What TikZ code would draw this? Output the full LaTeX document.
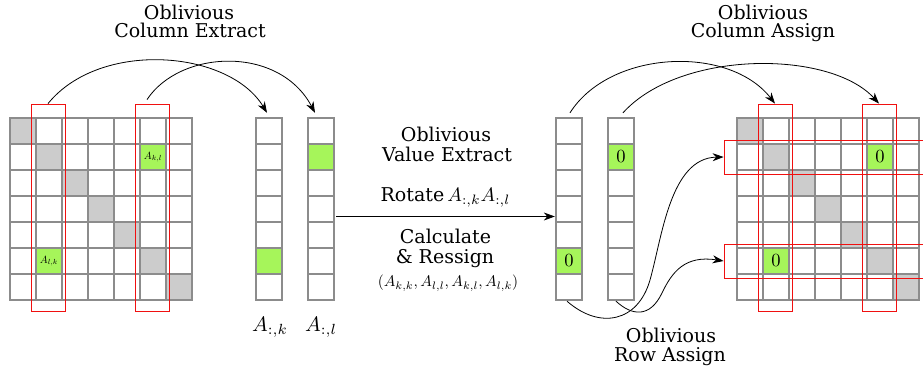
\documentclass[tikz,border=0pt]{standalone}
\usepackage{fontspec}
\setmainfont{DejaVu Serif}
\usetikzlibrary{arrows.meta,calc}
\definecolor{gridgray}{HTML}{8C8C8C}
\definecolor{diaggray}{HTML}{CCCCCC}
\definecolor{cellgreen}{HTML}{A6F55A}
\definecolor{boxred}{HTML}{F01010}
\newcommand{\bigmath}[2]{{\fontsize{10}{12}\selectfont\scalebox{#1}{$#2$}}}
\begin{document}
\begin{tikzpicture}[x=1pt,y=-1pt,
  cellline/.style={draw=gridgray,line width=1.1pt},
  redbox/.style={draw=boxred,line width=0.8pt,inner sep=0pt,fill=none},
  vecnode/.style={inner sep=0pt,minimum width=26pt,minimum height=182pt},
  arr/.style={line width=0.8pt,-{Stealth[length=11pt,width=8pt,inset=3.5pt]}},
  lbl/.style={anchor=base,font=\fontsize{19}{19}\selectfont,inner sep=0pt,text height=13.5pt,text depth=3pt},
  mlbl/.style={anchor=base,font=\fontsize{10}{12}\selectfont,inner sep=0pt},
  tinylbl/.style={font=\fontsize{10}{12}\selectfont,inner sep=0pt},
  zerolbl/.style={font=\fontsize{10}{12}\selectfont,inner sep=0pt}]
\useasboundingbox (0,0) rectangle (923,371);
\clip (0,0) rectangle (923,371);

% ---------- left matrix ----------
\foreach \i in {0,...,6}
  \fill[diaggray] (10+26*\i,118+26*\i) rectangle ++(26,26);
\fill[cellgreen] (10+26*5,118+26*1) rectangle ++(26,26);
\fill[cellgreen] (10+26*1,118+26*5) rectangle ++(26,26);
\foreach \r in {0,...,6}
  \foreach \c in {0,...,6}
    \draw[cellline] (10+26*\c,118+26*\r) rectangle ++(26,26);
\node[tinylbl] (akl) at (153,157) {\bigmath{1.05}{A_{k,l}}};
\node[tinylbl] (alk) at (49,261) {\bigmath{1.05}{A_{l,k}}};
\node[redbox,minimum width=34pt,minimum height=207pt] (lk) at (48,207.5) {};
\node[redbox,minimum width=34pt,minimum height=207pt] (ll) at (152,207.5) {};

% ---------- extracted columns ----------
\fill[cellgreen] (256,118+26*5) rectangle ++(26,26);
\fill[cellgreen] (308,118+26*1) rectangle ++(26,26);
\foreach \r in {0,...,6} {
  \draw[cellline] (256,118+26*\r) rectangle ++(26,26);
  \draw[cellline] (308,118+26*\r) rectangle ++(26,26);
}
\node[vecnode] (vk) at (269,209) {};
\node[vecnode] (vl) at (321,209) {};
\node[mlbl] (vklbl) at (270,331) {\bigmath{2.1}{A_{:,k}}};
\node[mlbl] (vllbl) at (321,331) {\bigmath{2.1}{A_{:,l}}};

% ---------- right columns ----------
\fill[cellgreen] (556,118+26*5) rectangle ++(26,26);
\fill[cellgreen] (608,118+26*1) rectangle ++(26,26);
\foreach \r in {0,...,6} {
  \draw[cellline] (556,118+26*\r) rectangle ++(26,26);
  \draw[cellline] (608,118+26*\r) rectangle ++(26,26);
}
\node[vecnode] (rk) at (569,209) {};
\node[vecnode] (rl) at (621,209) {};
\node[zerolbl] (rk0) at (569,261) {\bigmath{1.85}{0}};
\node[zerolbl] (rl0) at (621,157) {\bigmath{1.85}{0}};

% ---------- right matrix ----------
\foreach \i in {0,...,6}
  \fill[diaggray] (737+26*\i,118+26*\i) rectangle ++(26,26);
\fill[cellgreen] (737+26*5,118+26*1) rectangle ++(26,26);
\fill[cellgreen] (737+26*1,118+26*5) rectangle ++(26,26);
\foreach \r in {0,...,6}
  \foreach \c in {0,...,6}
    \draw[cellline] (737+26*\c,118+26*\r) rectangle ++(26,26);
\node[zerolbl] (m0a) at (880,157) {\bigmath{1.85}{0}};
\node[zerolbl] (m0b) at (776,261) {\bigmath{1.85}{0}};
\node[redbox,minimum width=34pt,minimum height=207pt] (rc1) at (775,207.5) {};
\node[redbox,minimum width=34pt,minimum height=207pt] (rc5) at (879,207.5) {};
\node[redbox,minimum width=211pt,minimum height=34pt] (rr1) at (829.5,157) {};
\node[redbox,minimum width=211pt,minimum height=34pt] (rr5) at (829.5,261) {};

% ---------- texts ----------
\node[lbl] (t1a) at (189,19.5) {Oblivious};
\node[lbl] (t1b) at (190,38) {Column Extract};
\node[lbl] (t2a) at (446,141.7) {Oblivious};
\node[lbl] (t2b) at (447,161.7) {Value Extract};
\node[lbl] (t3) at (445.5,201.7) {Rotate\,\bigmath{1.95}{A_{:,k}A_{:,l}}};
\node[lbl] (t4a) at (445.5,243.3) {Calculate};
\node[lbl] (t4b) at (445,263.3) {\& Ressign};
\node[mlbl] (t5) at (448,286.7) {\bigmath{1.55}{(A_{k,k},A_{l,l},A_{k,l},A_{l,k})}};
\node[lbl] (t6a) at (763,19.3) {Oblivious};
\node[lbl] (t6b) at (763,37.7) {Column Assign};
\node[lbl] (t7a) at (671,342.7) {Oblivious};
\node[lbl] (t7b) at (670,361.7) {Row Assign};

% ---------- connectors ----------
\draw[arr] (lk.north) .. controls +(52,-64) and +(-38,-63) .. ($(vk.north)+(-2,-5)$);
\draw[arr] ($(ll.north)+(-5,-4)$) .. controls +(33,-50) and +(-36,-68) .. ($(vl.north)+(-6,-5)$);
\draw[arr] ($(vl.east)+(2,7.5)$) -- ($(rk.west)+(-1,7.5)$);
\draw[arr] ($(rk.north)+(1,-5)$) .. controls +(40,-63) and +(-46,-59) .. (rc1.north);
\draw[arr] ($(rl.north)+(2,-5)$) .. controls +(57,-63) and +(-49,-54) .. (rc5.north);
\draw[arr] ($(rk.south)+(-2,1)$) .. controls (600,330) and (638,322) .. (650,280)
   .. controls (662,238) and (670,158) .. (rr1.west);
\draw[arr] ($(rl.south)+(-5,1)$) .. controls (632,316) and (650,318) .. (662,293)
   .. controls (672,272) and (685,255) .. (rr5.west);
\end{tikzpicture}
\end{document}
